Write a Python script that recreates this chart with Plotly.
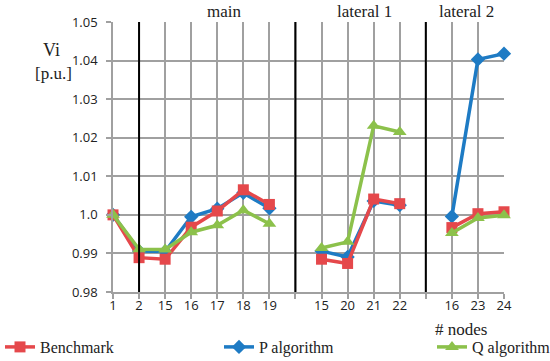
import plotly.graph_objects as go

# Category slots (gaps between sections are blank slots)
x_labels = ["1", "2", "15", "16", "17", "18", "19", "", "15", "20", "21", "22", "", "16", "23", "24"]
positions = list(range(len(x_labels)))

benchmark = [1.0, 0.9889, 0.9885, 0.9968, 1.0010, 1.0065, 1.0027, None,
             0.9885, 0.9874, 1.0041, 1.0029, None, 0.9967, 1.0003, 1.0008]
p_algorithm = [1.0, 0.9906, 0.9905, 0.9995, 1.0016, 1.0057, 1.0017, None,
               0.9906, 0.9891, 1.0036, 1.0025, None, 0.9996, 1.0403, 1.0418]
q_algorithm = [1.0, 0.9911, 0.9910, 0.9955, 0.9973, 1.0012, 0.9977, None,
               0.9914, 0.9930, 1.0231, 1.0215, None, 0.9953, 0.9992, 0.9999]

y_ticks = [0.98, 0.99, 1.0, 1.01, 1.02, 1.03, 1.04, 1.05]
y_ticktext = ["0.98", "0.99", "1.0", "1.01", "1.02", "1.03", "1.04", "1.05"]

section_dividers = [1, 7, 12]
section_titles = [("main", 4.25), ("lateral 1", 9.65), ("lateral 2", 13.55)]

RED = "#E5484B"
BLUE = "#1E7BC4"
GREEN = "#8CC14B"
SERIF = "Liberation Serif, DejaVu Serif, serif"
SANS = "Open Sans, Liberation Sans, sans-serif"

W, H = 550, 361
ML, MR, MT, MB = 113, 46, 22, 69
PW, PH = W - ML - MR, H - MT - MB


def px_to_paper(px, py):
    return (px - ML) / PW, (H - MB - py) / PH


fig = go.Figure()
fig.add_trace(go.Scatter(x=positions, y=p_algorithm, name="P algorithm", mode="lines+markers",
                         line=dict(color=BLUE, width=3.5),
                         marker=dict(symbol="diamond", size=11, color=BLUE),
                         legend="legend2", connectgaps=False))
fig.add_trace(go.Scatter(x=positions, y=benchmark, name="Benchmark", mode="lines+markers",
                         line=dict(color=RED, width=3.5),
                         marker=dict(symbol="square", size=11, color=RED),
                         legend="legend", connectgaps=False))
fig.add_trace(go.Scatter(x=positions, y=q_algorithm, name="Q algorithm", mode="lines+markers",
                         line=dict(color=GREEN, width=3.5),
                         marker=dict(symbol="triangle-up", size=12, color=GREEN),
                         legend="legend3", connectgaps=False))

for d in section_dividers:
    fig.add_shape(type="line", xref="x", yref="y", x0=d, x1=d, y0=0.98, y1=1.05,
                  line=dict(color="black", width=2), layer="above")

_, title_y = px_to_paper(0, 11)
for txt, xp in section_titles:
    fig.add_annotation(x=xp, xref="x", y=title_y, yref="paper", yanchor="middle",
                       text=txt, showarrow=False, font=dict(family=SERIF, size=17, color="#222"))

annotations_px = [("Vi", 51, 50, 18), ("[p.u.]", 53, 74, 17), ("# nodes", 461, 329, 17)]
for txt, px, py, fs in annotations_px:
    ax, ay = px_to_paper(px, py)
    fig.add_annotation(x=ax, xref="paper", y=ay, yref="paper",
                       text=txt, showarrow=False, font=dict(family=SERIF, size=fs, color="#222"),
                       xanchor="center", yanchor="middle")

leg_common = dict(orientation="h", xref="container", yref="container",
                  xanchor="left", yanchor="middle", y=1 - 347 / H,
                  font=dict(family=SERIF, size=16, color="#222"),
                  bgcolor="rgba(0,0,0,0)", itemwidth=30)

fig.update_layout(
    width=W, height=H,
    margin=dict(l=ML, r=MR, t=MT, b=MB, autoexpand=False),
    plot_bgcolor="white", paper_bgcolor="white",
    xaxis=dict(range=[0, 15], tickvals=positions, ticktext=x_labels,
               showgrid=True, gridcolor="#A0A0A0", gridwidth=1.5,
               ticks="outside", ticklen=5, tickcolor="#A0A0A0", tickwidth=1.5,
               showline=True, linecolor="#A0A0A0", linewidth=1.5, zeroline=False,
               ticklabelstandoff=-4, automargin=False,
               tickfont=dict(family=SANS, size=13, color="#222")),
    yaxis=dict(range=[0.98, 1.05], tickvals=y_ticks, ticktext=y_ticktext,
               showgrid=True, gridcolor="#A0A0A0", gridwidth=1.5,
               ticks="outside", ticklen=5, tickcolor="#A0A0A0", tickwidth=1.5,
               showline=True, linecolor="#A0A0A0", linewidth=1.5, zeroline=False,
               ticklabelstandoff=6, automargin=False,
               tickfont=dict(family=SANS, size=13, color="#222")),
    legend=dict(x=-0.016, **leg_common),
    legend2=dict(x=219 / W, **leg_common),
    legend3=dict(x=432 / W, **leg_common),
    showlegend=True,
)
fig.update_traces(cliponaxis=False)

fig.write_html("out.html", post_script="document.body.style.margin='0';",
               config={"displayModeBar": False})
